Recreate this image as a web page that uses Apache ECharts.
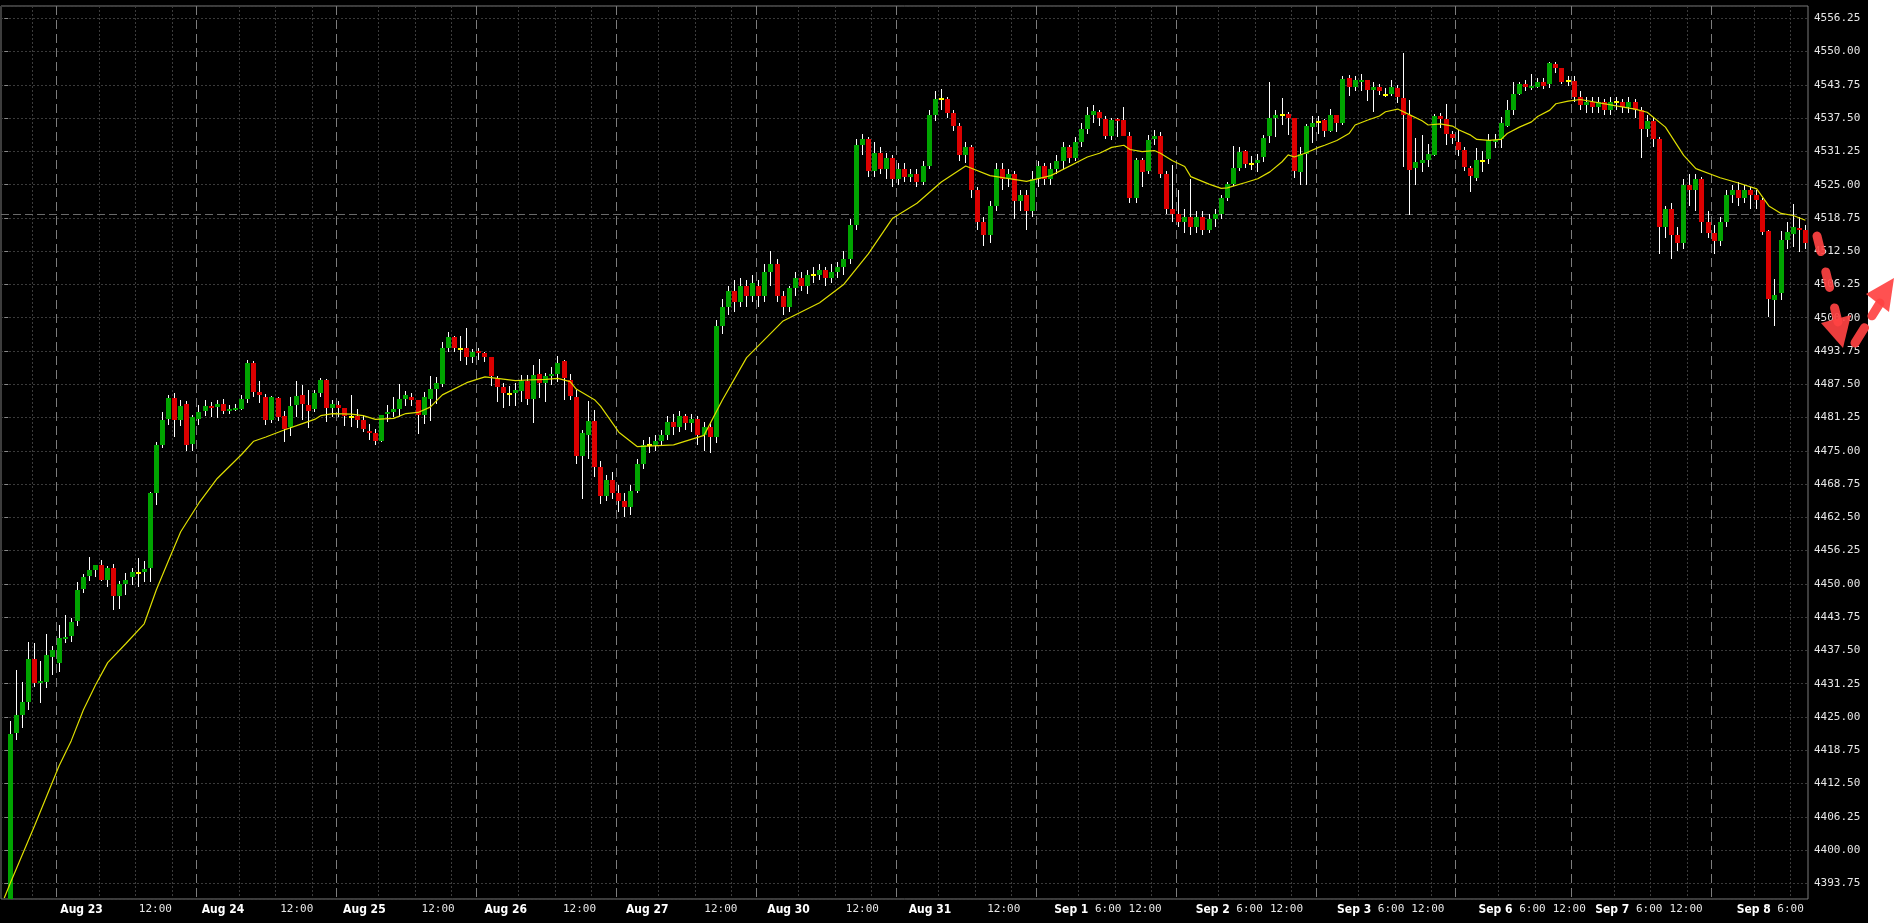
<!DOCTYPE html>
<html><head><meta charset="utf-8">
<script src="https://cdn.jsdelivr.net/npm/echarts@6/dist/echarts.min.js"></script>
<style>html,body{margin:0;padding:0;background:#fff}#c{width:1895px;height:923px}</style>
</head><body><div id="c"></div>
<script>
// ---- sessions: [label, hourly bars shown, CT hour at which the first bar opens]
const sessions = [
  ['Aug 20', 9, 7], ['Aug 23', 23, 17], ['Aug 24', 23, 17], ['Aug 25', 23, 17], ['Aug 26', 23, 17],
  ['Aug 27', 23, 17], ['Aug 30', 23, 17], ['Aug 31', 23, 17], ['Sep 1', 23, 17], ['Sep 2', 23, 17],
  ['Sep 3', 23, 17], ['Sep 6', 19, 17], ['Sep 7', 23, 17], ['Sep 8', 16, 17]
];
// ---- bottom tick labels: [session, CT hour, text]
const tickLabels = [
  ['Aug 23', 0, 'Aug 23'], ['Aug 23', 12, '12:00'], ['Aug 24', 0, 'Aug 24'], ['Aug 24', 12, '12:00'],
  ['Aug 25', 0, 'Aug 25'], ['Aug 25', 12, '12:00'], ['Aug 26', 0, 'Aug 26'], ['Aug 26', 12, '12:00'],
  ['Aug 27', 0, 'Aug 27'], ['Aug 27', 12, '12:00'], ['Aug 30', 0, 'Aug 30'], ['Aug 30', 12, '12:00'],
  ['Aug 31', 0, 'Aug 31'], ['Aug 31', 12, '12:00'],
  ['Sep 1', 0, 'Sep 1'], ['Sep 1', 6, '6:00'], ['Sep 1', 12, '12:00'],
  ['Sep 2', 0, 'Sep 2'], ['Sep 2', 6, '6:00'], ['Sep 2', 12, '12:00'],
  ['Sep 3', 0, 'Sep 3'], ['Sep 3', 6, '6:00'], ['Sep 3', 12, '12:00'],
  ['Sep 6', 0, 'Sep 6'], ['Sep 6', 6, '6:00'], ['Sep 6', 12, '12:00'],
  ['Sep 7', 0, 'Sep 7'], ['Sep 7', 6, '6:00'], ['Sep 7', 12, '12:00'],
  ['Sep 8', 0, 'Sep 8'], ['Sep 8', 6, '6:00']
];
const gridHours = [0, 6, 12];
const refPrice = 4519.4;
// ---- hourly candles [open, close, low, high], one per bar (bar 0 has nothing visible)
const candles = [
  null,
  [4388.0,4421.8,4386.0,4424.3],[4422.0,4425.4,4420.7,4433.8],[4425.4,4427.8,4423.0,4431.6],[4427.9,4435.9,4426.3,4439.1],
  [4435.9,4431.4,4430.6,4438.8],[4431.5,4431.8,4427.7,4435.5],[4431.6,4436.6,4430.5,4440.5],[4436.3,4437.6,4432.9,4438.3],
  [4435.2,4439.8,4433.5,4442.3],[4439.6,4440.0,4438.8,4444.2],[4440.3,4442.8,4439.1,4443.5],[4443.1,4448.8,4442.1,4450.4],
  [4449.0,4451.2,4448.2,4451.9],[4451.5,4452.6,4450.6,4455.0],[4452.7,4453.5,4451.3,4453.6],[4453.5,4450.7,4450.5,4454.5],
  [4450.7,4452.9,4449.5,4453.3],[4452.9,4447.8,4445.1,4453.8],[4447.8,4450.0,4445.3,4450.5],[4450.0,4450.8,4448.0,4452.1],
  [4451.2,4452.3,4449.8,4453.0],[4452.0,4452.0,4449.5,4454.9],[4452.3,4452.8,4450.4,4454.3],[4452.9,4467.0,4450.4,4467.3],
  [4467.1,4476.0,4464.9,4476.7],[4476.1,4480.8,4475.5,4482.2],[4481.0,4485.0,4479.8,4485.5],[4485.0,4480.7,4477.5,4485.8],
  [4480.7,4483.5,4479.7,4484.5],[4483.7,4476.1,4475.0,4484.3],[4476.3,4481.3,4474.9,4481.7],[4481.0,4482.3,4479.8,4483.6],
  [4482.5,4483.5,4481.5,4484.5],[4483.5,4483.2,4481.3,4484.2],[4483.2,4483.8,4481.2,4484.5],[4483.7,4482.4,4482.0,4484.7],
  [4482.5,4482.9,4482.0,4483.6],[4482.7,4483.1,4482.4,4483.8],[4482.9,4484.7,4482.7,4485.5],[4484.8,4491.5,4483.9,4492.1],
  [4491.4,4486.1,4485.2,4491.9],[4486.0,4485.4,4483.9,4488.1],[4485.2,4480.7,4479.8,4485.6],[4480.7,4485.1,4480.2,4485.3],
  [4485.0,4481.4,4480.6,4485.2],[4481.5,4479.1,4476.7,4482.5],[4479.4,4483.5,4477.7,4485.2],[4483.6,4485.3,4481.3,4488.1],
  [4485.4,4483.8,4480.8,4487.4],[4483.6,4482.5,4479.2,4486.5],[4482.8,4485.8,4482.3,4486.5],[4485.8,4488.3,4485.2,4488.6],
  [4488.3,4483.1,4480.5,4488.4],[4483.1,4483.8,4481.4,4484.5],[4483.6,4483.1,4481.4,4484.4],[4483.0,4481.6,4479.7,4483.1],
  [4481.4,4481.4,4479.5,4485.5],[4481.5,4480.8,4479.3,4482.8],[4480.8,4479.1,4478.6,4481.7],[4478.7,4478.3,4477.0,4480.0],
  [4478.4,4476.8,4476.1,4479.1],[4476.8,4481.7,4476.7,4481.8],[4482.0,4482.3,4480.5,4483.6],[4482.3,4482.8,4481.3,4485.2],
  [4482.8,4484.7,4481.4,4487.5],[4484.7,4485.4,4483.4,4486.2],[4485.2,4484.5,4483.4,4485.8],[4484.5,4481.7,4478.2,4484.6],
  [4481.7,4485.2,4480.0,4486.1],[4484.7,4486.6,4480.6,4489.0],[4486.6,4487.7,4483.8,4488.9],[4487.5,4494.4,4486.9,4495.5],
  [4494.4,4496.3,4493.6,4497.3],[4496.3,4494.4,4493.6,4496.6],[4494.2,4494.2,4491.9,4496.6],[4494.3,4492.7,4491.1,4498.0],
  [4492.7,4493.5,4491.4,4494.2],[4493.7,4493.4,4492.1,4494.4],[4493.3,4492.7,4491.7,4493.6],[4492.6,4489.0,4487.2,4492.7],
  [4488.7,4486.9,4484.2,4489.0],[4487.0,4485.9,4483.1,4487.8],[4485.7,4485.7,4483.4,4487.2],[4485.8,4486.5,4483.4,4487.7],
  [4486.2,4488.1,4484.2,4489.2],[4488.1,4484.7,4483.6,4489.2],[4484.7,4489.2,4480.2,4491.2],[4489.5,4487.7,4484.9,4492.2],
  [4487.7,4489.0,4484.2,4489.7],[4489.0,4489.5,4487.3,4490.7],[4489.4,4491.4,4488.0,4492.9],[4491.9,4488.6,4484.5,4492.0],
  [4488.3,4485.3,4484.5,4489.5],
  [4485.2,4474.0,4472.5,4486.5],[4474.0,4478.4,4466.0,4479.0],[4478.0,4480.6,4473.5,4484.3],[4480.6,4472.0,4470.0,4482.6],
  [4472.0,4466.5,4465.0,4473.0],[4466.5,4469.5,4465.5,4470.5],[4469.5,4467.0,4466.0,4471.0],
  [4467.0,4465.5,4463.5,4468.5],[4465.5,4464.5,4462.5,4467.0],[4464.5,4467.5,4463.0,4468.5],[4467.5,4472.5,4467.0,4473.5],
  [4472.5,4476.0,4471.5,4477.0],[4476.0,4476.0,4474.5,4477.5],[4476.0,4476.8,4475.0,4478.0],[4476.8,4478.0,4476.0,4479.0],
  [4478.0,4480.5,4477.0,4481.5],[4480.5,4479.5,4478.0,4482.0],[4479.5,4481.5,4478.5,4482.5],[4481.5,4480.2,4479.0,4482.0],
  [4480.2,4481.0,4478.5,4482.0],[4481.0,4478.0,4476.0,4481.5],[4478.0,4479.5,4475.0,4480.5],[4479.5,4477.5,4474.5,4480.5],
  [4477.5,4498.5,4476.5,4499.5],[4498.5,4502.0,4497.0,4503.5],[4502.0,4505.0,4500.5,4506.0],[4505.0,4503.0,4501.0,4507.0],
  [4503.0,4506.0,4502.0,4507.5],[4506.0,4504.0,4502.0,4507.0],[4504.0,4506.5,4503.0,4508.0],
  [4506.0,4504.0,4502.0,4507.0],[4504.0,4508.5,4503.0,4510.0],[4508.5,4510.0,4506.0,4512.5],[4510.0,4504.0,4503.0,4511.0],
  [4504.0,4502.0,4500.5,4505.0],[4502.0,4505.5,4501.0,4506.0],[4505.5,4507.5,4504.0,4508.5],[4507.5,4506.0,4505.0,4508.5],
  [4506.0,4508.0,4504.5,4509.0],[4508.0,4508.0,4506.5,4509.5],[4508.0,4509.0,4507.0,4510.0],[4509.0,4507.5,4506.0,4509.5],
  [4507.5,4508.5,4506.5,4510.0],[4508.5,4509.5,4507.5,4510.5],[4509.5,4511.0,4508.0,4512.5],[4511.0,4517.5,4510.0,4518.5],
  [4517.5,4532.5,4516.5,4533.5],[4532.5,4533.5,4530.5,4534.5],[4533.5,4527.5,4526.5,4534.0],[4527.5,4531.0,4526.5,4533.0],
  [4531.0,4528.0,4527.0,4532.0],[4528.0,4530.0,4526.0,4531.0],[4530.0,4526.0,4524.5,4530.5],
  [4526.0,4528.0,4525.0,4529.0],[4528.0,4526.5,4525.5,4529.0],[4526.5,4527.0,4525.5,4528.0],[4527.0,4525.5,4524.5,4528.0],
  [4525.5,4528.5,4525.0,4529.5],[4528.5,4538.0,4528.0,4539.0],[4538.0,4541.0,4537.0,4542.5],[4541.0,4541.0,4539.0,4543.0],
  [4541.0,4538.5,4537.5,4541.5],[4538.5,4536.0,4535.0,4539.0],[4536.0,4530.5,4529.5,4536.5],[4530.5,4532.0,4529.0,4533.0],
  [4532.0,4524.0,4522.5,4532.5],[4524.0,4518.0,4516.5,4524.5],[4518.0,4515.5,4513.5,4519.0],[4515.5,4521.0,4514.0,4522.0],
  [4521.0,4528.0,4520.0,4529.0],[4528.0,4526.0,4524.0,4529.0],[4526.0,4527.0,4524.5,4528.0],[4527.0,4522.0,4518.5,4527.5],
  [4522.0,4523.0,4520.0,4524.0],[4523.0,4520.0,4516.5,4524.0],[4520.0,4526.0,4519.0,4527.5],
  [4526.0,4528.5,4524.5,4529.5],[4528.5,4526.0,4525.0,4529.0],[4526.0,4528.0,4525.0,4529.0],[4528.0,4529.5,4527.0,4530.5],
  [4529.5,4532.0,4528.0,4533.0],[4532.0,4530.0,4529.0,4532.5],[4530.0,4533.0,4529.5,4534.0],[4533.0,4535.5,4532.0,4536.5],
  [4535.5,4538.0,4534.5,4539.5],[4538.0,4538.8,4536.5,4540.0],[4538.7,4537.6,4536.0,4539.0],[4537.3,4534.1,4533.5,4537.9],
  [4534.1,4537.1,4533.3,4537.5],[4537.3,4537.0,4534.0,4537.5],[4537.1,4534.1,4534.1,4539.5],[4534.1,4522.5,4521.5,4534.9],
  [4522.5,4529.6,4521.5,4530.0],[4529.6,4527.4,4524.6,4530.0],[4527.6,4533.4,4527.0,4534.3],[4533.5,4534.1,4532.5,4535.3],
  [4534.1,4527.0,4526.2,4534.9],[4527.0,4520.5,4519.5,4527.5],[4520.5,4519.5,4518.0,4528.7],
  [4519.5,4518.0,4517.0,4524.0],[4518.0,4519.0,4516.0,4520.5],[4519.0,4517.0,4515.5,4526.0],[4517.0,4519.0,4516.0,4520.0],
  [4519.0,4516.5,4515.5,4520.0],[4516.5,4518.5,4516.0,4519.5],[4518.5,4519.5,4517.0,4520.5],[4519.5,4522.5,4518.5,4523.0],
  [4522.5,4525.1,4522.0,4525.5],[4525.1,4528.2,4524.7,4532.3],[4528.2,4531.1,4527.5,4532.0],[4531.3,4528.9,4528.2,4531.5],
  [4528.9,4528.9,4527.7,4530.4],[4529.1,4529.7,4527.4,4530.7],[4530.1,4533.7,4529.3,4534.4],[4534.1,4537.6,4532.8,4544.2],
  [4537.6,4538.1,4534.0,4539.1],[4538.1,4538.1,4536.2,4541.2],[4538.3,4537.6,4534.3,4538.7],[4537.6,4527.6,4526.2,4537.6],
  [4527.4,4530.8,4524.9,4532.0],[4530.8,4536.0,4524.9,4536.4],[4535.9,4536.5,4532.9,4537.9],
  [4536.7,4536.7,4534.6,4537.9],[4537.1,4535.0,4534.0,4537.3],[4535.0,4538.1,4534.8,4539.3],[4538.1,4536.6,4534.9,4538.1],
  [4536.6,4544.8,4536.2,4545.4],[4545.0,4543.4,4541.7,4545.6],[4543.4,4544.7,4542.5,4545.4],[4544.3,4544.7,4542.5,4545.8],
  [4544.7,4542.8,4540.8,4544.7],[4542.7,4543.4,4538.7,4544.2],[4543.4,4542.5,4541.8,4544.0],[4541.9,4541.9,4541.5,4543.2],
  [4542.0,4543.3,4541.6,4544.7],[4543.1,4541.4,4540.4,4543.7],[4541.3,4538.1,4528.4,4549.7],[4538.1,4527.8,4519.3,4540.9],
  [4528.1,4529.3,4524.9,4533.7],[4529.1,4529.6,4527.4,4534.3],[4529.6,4530.8,4528.4,4532.6],[4530.6,4537.9,4530.3,4538.3],
  [4537.9,4537.3,4535.6,4538.4],[4537.3,4534.5,4532.5,4540.2],[4534.5,4533.8,4532.6,4535.1],
  [4533.1,4531.5,4530.4,4535.3],[4531.5,4528.4,4527.6,4532.1],[4528.2,4526.6,4523.7,4528.5],[4526.3,4529.6,4525.7,4531.9],
  [4529.5,4529.5,4527.3,4531.3],[4529.8,4533.4,4528.8,4534.5],[4533.0,4533.4,4531.8,4534.5],[4533.5,4536.5,4531.8,4537.7],
  [4536.0,4539.0,4535.9,4540.9],[4539.0,4542.0,4538.1,4544.2],[4542.0,4544.0,4541.8,4544.2],[4544.0,4543.3,4542.5,4544.7],
  [4543.2,4543.5,4542.7,4545.8],[4543.3,4544.3,4543.1,4545.1],[4544.3,4543.5,4542.9,4545.1],[4544.0,4547.9,4543.1,4548.1],
  [4547.7,4547.0,4546.0,4548.0],[4546.9,4544.3,4544.0,4547.0],[4544.5,4544.5,4543.5,4545.5],
  [4544.5,4541.5,4540.5,4545.5],[4541.5,4540.0,4539.0,4542.5],[4540.0,4540.5,4538.5,4541.5],[4540.5,4539.5,4538.5,4541.5],
  [4539.5,4540.5,4538.5,4541.5],[4540.5,4539.0,4538.0,4541.0],[4539.0,4540.5,4538.0,4541.5],[4540.5,4540.5,4539.0,4541.5],
  [4540.5,4539.5,4538.5,4541.0],[4539.5,4540.5,4538.5,4541.5],[4540.5,4539.0,4537.5,4541.0],[4539.0,4535.5,4530.0,4539.5],
  [4535.5,4537.0,4534.0,4538.0],[4537.0,4533.5,4532.0,4537.5],[4533.5,4517.0,4512.0,4534.0],[4517.0,4520.5,4515.0,4521.0],
  [4520.5,4515.5,4511.0,4521.5],[4515.5,4514.0,4512.5,4517.0],[4514.0,4525.0,4513.0,4526.0],[4525.0,4524.0,4521.0,4527.0],
  [4524.0,4526.0,4520.0,4527.0],[4526.0,4518.0,4516.0,4526.5],[4518.0,4516.0,4515.0,4520.0],
  [4516.0,4514.5,4512.0,4517.5],[4514.5,4518.0,4513.5,4519.0],[4518.0,4523.0,4517.0,4524.0],[4523.0,4524.0,4521.5,4525.0],
  [4524.0,4522.5,4521.0,4525.5],[4522.5,4524.0,4521.5,4525.0],[4524.0,4523.0,4520.5,4524.5],[4523.0,4522.2,4520.5,4524.0],
  [4522.2,4516.1,4515.5,4522.5],[4516.3,4503.6,4500.2,4516.5],[4503.3,4504.3,4498.4,4507.3],[4504.6,4514.6,4503.4,4516.3],
  [4514.6,4516.1,4513.0,4518.0],[4515.8,4517.1,4513.2,4521.3],[4516.9,4516.6,4512.4,4519.0],[4516.5,4514.0,4513.0,4517.5]
];
// ---- moving average: [bar, value]
const maPoints = [
  [0,4391.0],[1,4393.8],[3,4399.2],[5,4404.6],[7,4410.2],[9,4415.8],[11,4420.5],[13,4426.3],[15,4431.0],[17,4435.2],
  [20,4438.8],[23,4442.5],[25,4448.9],[27,4454.4],[29,4459.8],[32,4465.2],[35,4469.8],[39,4474.3],[41,4476.8],[43,4477.6],
  [46,4478.9],[49,4480.1],[51,4480.9],[52,4481.6],[54,4482.0],[57,4481.9],[59,4481.6],[61,4480.9],[64,4481.1],[66,4482.0],
  [68,4482.2],[70,4483.2],[72,4485.5],[76,4487.8],[79,4488.9],[81,4488.6],[84,4488.2],[86,4488.3],[89,4488.4],[91,4488.6],
  [93,4488.0],[94,4486.6],[97,4484.6],[98,4483.4],[101,4478.5],[104,4475.8],[110,4476.1],[115,4477.9],[118,4484.5],
  [122,4492.5],[128,4499.4],[134,4502.8],[138,4506.3],[142,4512.0],[146,4518.7],[150,4521.5],[154,4525.5],[158,4528.5],
  [162,4526.7],[168,4525.6],[172,4526.7],[178,4530.2],[180,4530.9],[182,4532.0],[184,4532.4],[185,4531.6],[187,4531.2],
  [189,4531.4],[190,4530.9],[192,4529.5],[194,4528.4],[195,4526.5],[198,4525.1],[200,4524.3],[201,4524.4],[204,4525.4],
  [206,4526.1],[208,4527.4],[210,4529.3],[211,4530.6],[212,4530.2],[214,4531.0],[216,4532.0],[217,4532.4],[219,4533.3],
  [221,4534.6],[222,4536.2],[224,4537.1],[226,4537.9],[227,4538.7],[229,4539.2],[231,4538.1],[233,4537.0],[234,4536.2],
  [236,4536.4],[238,4536.0],[239,4535.3],[241,4534.3],[242,4533.5],[244,4533.3],[246,4533.5],[247,4534.6],[249,4535.8],
  [251,4536.8],[252,4537.8],[254,4539.0],[255,4540.2],[257,4540.7],[259,4541.0],[264,4540.0],[268,4539.2],[270,4538.6],
  [273,4535.8],[276,4530.5],[278,4528.0],[282,4526.3],[285,4525.3],[288,4524.2],[290,4521.0],[292,4519.6],[294,4519.2],[296,4518.3]
];

// ---------- derived positions (in bar units) ----------
const sessionStart = {};
let acc = 0;
sessions.forEach(s => { sessionStart[s[0]] = acc; acc += s[1]; });
const sessionOf = {};
sessions.forEach(s => { sessionOf[s[0]] = s; });
function timeX(name, hour) {
  const s = sessionOf[name];
  return sessionStart[name] + ((hour - s[2] + 24) % 24) - 0.5;
}
const guides = [];
sessions.forEach((s, k) => {
  if (k > 0) guides.push([sessionStart[s[0]] - 0.5, 1]);
  gridHours.forEach(h => {
    const off = (h - s[2] + 24) % 24;
    if (off > 0 && off < s[1]) guides.push([sessionStart[s[0]] + off - 0.5, 0]);
  });
});
guides.push([refPrice, 2]);
const labelMap = {};
const labelXs = tickLabels.map(t => {
  const x = timeX(t[0], t[1]);
  labelMap[x.toFixed(2)] = t[2];
  return x;
});
const candleData = [];
candles.forEach((d, i) => { if (d) candleData.push([i, d[0], d[1], d[2], d[3]]); });

const GREEN = '#00a400', RED = '#dc0000', DOJI = '#ffff00', WICK = '#ffffff';

function renderCandle(params, api) {
  const i = api.value(0), o = api.value(1), c = api.value(2), l = api.value(3), h = api.value(4);
  const band = api.size([1, 0])[0];
  const w = Math.max(3, Math.round(band * 0.78));
  const cx = api.coord([i, o])[0];
  const left = Math.round(cx - w / 2);
  const wx = left + Math.floor(w / 2) + 0.5;
  const yH = api.coord([i, h])[1], yL = api.coord([i, l])[1];
  const yO = api.coord([i, o])[1], yC = api.coord([i, c])[1];
  const children = [{type: 'line', shape: {x1: wx, y1: Math.round(yH), x2: wx, y2: Math.round(yL)},
    style: {stroke: WICK, lineWidth: 1}}];
  if (o === c) {
    children.push({type: 'rect', shape: {x: left, y: Math.round(yO) - 1, width: w, height: 2}, style: {fill: DOJI}});
  } else {
    const top = Math.round(Math.min(yO, yC)), bot = Math.round(Math.max(yO, yC));
    children.push({type: 'rect', shape: {x: left, y: top, width: w, height: Math.max(2, bot - top)},
      style: {fill: c > o ? GREEN : RED}});
  }
  return {type: 'group', children};
}

function renderGuide(params, api) {
  const v = api.value(0), kind = api.value(1);
  const cs = params.coordSys;
  if (kind === 2) {
    const y = Math.round(api.coord([0, v])[1]) + 0.5;
    return {type: 'line', shape: {x1: cs.x, y1: y, x2: cs.x + cs.width, y2: y},
      style: {stroke: '#6a6a6a', lineWidth: 1, lineDash: [8, 4]}};
  }
  const x = Math.round(api.coord([v, 4500])[0]) + 0.5;
  return {type: 'line', shape: {x1: x, y1: cs.y, x2: x, y2: cs.y + cs.height},
    style: kind === 1 ? {stroke: '#7c7c7c', lineWidth: 1, lineDash: [9, 5]}
                      : {stroke: '#3c3c3c', lineWidth: 1, lineDash: [2, 2]}};
}

const chart = echarts.init(document.getElementById('c'), null, {renderer: 'canvas'});
chart.setOption({
  animation: false,
  backgroundColor: '#000000',
  grid: {left: 1, right: 87, top: 6, bottom: 24, show: true, borderColor: '#7a7a7a', borderWidth: 1,
    backgroundColor: 'transparent'},
  xAxis: [
    {type: 'value', min: -0.533, max: 296.43, axisLine: {show: false}, axisTick: {show: false},
      axisLabel: {show: false}, splitLine: {show: false}},
    {type: 'value', position: 'bottom', min: 2.393, max: 296.33, axisLine: {show: false}, axisTick: {show: false},
      splitLine: {show: false},
      axisLabel: {
        customValues: labelXs, margin: 5,
        formatter: v => {
          const t = labelMap[Number(v).toFixed(2)];
          if (!t) return '';
          return /:/.test(t) ? '{t|' + t + '}' : '{d|' + t + '}';
        },
        rich: {
          d: {color: '#ffffff', fontWeight: 'bold', fontSize: 12,
            fontFamily: '"DejaVu Sans Condensed","Liberation Sans Narrow","DejaVu Sans",sans-serif'},
          t: {color: '#e8e8e8', fontSize: 11, fontFamily: '"DejaVu Sans Mono",monospace'}
        }
      }}
  ],
  yAxis: {
    type: 'value', position: 'right', min: 4390.80, max: 4558.56, minInterval: 6.25, maxInterval: 6.25,
    axisLine: {show: false},
    axisTick: {show: true, length: 4, lineStyle: {color: '#8a8a8a'}},
    axisLabel: {show: true, showMinLabel: false, showMaxLabel: false, margin: 6, color: '#e6e6e6', fontSize: 11,
      fontFamily: '"DejaVu Sans Mono",monospace', formatter: v => Number(v).toFixed(2)},
    splitLine: {show: true, lineStyle: {color: '#3a3a3a', type: [2, 2], width: 1}}
  },
  series: [
    {type: 'custom', name: 'guides', xAxisIndex: 0, renderItem: renderGuide, data: guides, z: 1, silent: true,
      encode: {x: 0, y: 1}},
    {type: 'custom', name: 'bars', xAxisIndex: 0, renderItem: renderCandle, data: candleData, clip: true, z: 3,
      encode: {x: 0, y: [1, 2, 3, 4]}},
    {type: 'line', name: 'MA', xAxisIndex: 0, data: maPoints, showSymbol: false, symbol: 'none', z: 4,
      lineStyle: {color: '#dede00', width: 1.2}, clip: true}
  ],
  graphic: [
    {type: 'rect', right: 0, top: 0, z: 50, shape: {width: 27, height: 923}, style: {fill: '#ffffff'}},
    {type: 'polyline', z: 60, shape: {points: [[1817, 236], [1838, 322]]},
      style: {stroke: 'rgba(255,66,66,0.92)', lineWidth: 9, lineCap: 'round', lineDash: [16, 21], fill: null}},
    {type: 'polygon', z: 60, shape: {points: [[1821, 323], [1851, 315], [1843, 348]]},
      style: {fill: 'rgba(255,66,66,0.92)'}},
    {type: 'polyline', z: 60, shape: {points: [[1855, 343], [1880, 303]]},
      style: {stroke: 'rgba(255,66,66,0.92)', lineWidth: 9, lineCap: 'round', lineDash: [18, 14], fill: null}},
    {type: 'polygon', z: 60, shape: {points: [[1866, 294], [1894, 278], [1889, 312]]},
      style: {fill: 'rgba(255,66,66,0.92)'}}
  ]
});
</script></body></html>
